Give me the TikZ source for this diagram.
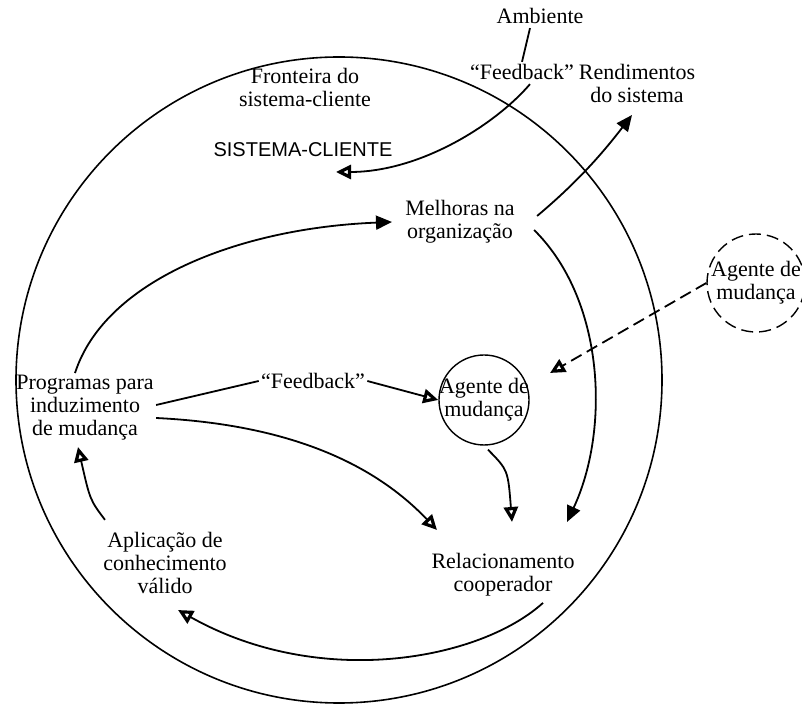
\documentclass[tikz,border=0pt]{standalone}
\usepackage{fontspec}
\setmainfont{Liberation Serif}
\newfontfamily\capsfont{Liberation Sans}
\usetikzlibrary{arrows.meta}
\tikzset{
  lbl/.style={align=center, font=\fontsize{11}{11.5}\selectfont, inner sep=1pt},
  link/.style={line width=0.9pt},
  openhead/.style={link, -{Triangle[open, length=7.5pt, width=7pt, line width=1.6pt]}},
  fullhead/.style={link, -{Triangle[length=8pt, width=7pt]}},
  agent/.style={lbl, circle, draw, line width=0.7pt, minimum size=45pt, inner sep=-4pt},
}
\begin{document}
\begin{tikzpicture}[x=0.5pt, y=-0.5pt]
\useasboundingbox (0,0) rectangle (802,704);

% boundary of the client system
\draw[line width=0.8pt] (339,380) circle [radius=323];

% labels
\node[lbl] (amb) at (540,16) {Ambiente};
\node[lbl] (fb1) at (522,72) {``Feedback''};
\node[lbl] (rend) at (637,83) {Rendimentos\\do sistema};
\node[lbl] (front) at (305,87) {Fronteira do\\sistema-cliente};
\node[lbl, font=\capsfont\fontsize{10}{11}\selectfont] (sc) at (303,150) {SISTEMA-CLIENTE};
\node[lbl] (mel) at (460,222) {Melhoras na\\organização};
\node[lbl] (prog) at (85,408) {Programas para\\induzimento\\de mudança};
\node[lbl] (fb2) at (313,381) {``Feedback''};
\node[agent] (ag) at (484,400) {Agente de\\mudança};
\node[agent, minimum size=49pt, dashed, dash pattern=on 6pt off 3pt] (agx) at (756,283) {Agente de\\mudança};
\node[lbl] (rel) at (503,575) {Relacionamento\\cooperador};
\node[lbl] (apl) at (165,563) {Aplicação de\\conhecimento\\válido};

% free ends of the connectors
\coordinate (scin) at (336,172);
\coordinate (rendin) at (632,115);
\coordinate (melin) at (392,222);
\coordinate (agin) at (550,373);

% feedback from the environment
\draw[link] (amb.south) ++(-10,2) -- (fb1.north);
\draw[openhead] (fb1.south) ++(8,2) .. controls (495,125) and (420,172) .. (scin);

% outputs of the system
\draw[fullhead] (mel.east) ++(20,-6) .. controls (580,180) and (605,150) .. (rendin);

% programmes to organisation improvements
\draw[fullhead] (prog.north) ++(-10,0) .. controls (105,280) and (240,228) .. (melin);

% improvements to cooperative relationship
\draw[fullhead] (mel.east) ++(17,8) .. controls (605,300) and (610,430) .. (567,522);

% internal feedback to the change agent
\draw[link] (prog.east) ++(0,-3) -- (fb2.west);
\draw[openhead] (fb2.east) -- (ag.west);

% external change agent
\draw[link, dashed, dash pattern=on 6pt off 3pt, -{Triangle[open, length=7.5pt, width=7pt, line width=1.6pt]}] (agx.west) -- (agin);

% change agent to cooperative relationship
\draw[openhead] (ag.south) ++(4,4) .. controls (508,470) .. (512,522);

% programmes to cooperative relationship
\draw[openhead] (prog.east) ++(0,10) .. controls (300,425) and (380,470) .. (437,530);

% relationship to valid knowledge
\draw[openhead] (rel.south) ++(40,4) .. controls (480,660) and (320,690) .. (178,610);

% knowledge back to programmes
\draw[openhead] (apl.north) ++(-60,-10) .. controls (90,500) .. (78,447);
\end{tikzpicture}
\end{document}
